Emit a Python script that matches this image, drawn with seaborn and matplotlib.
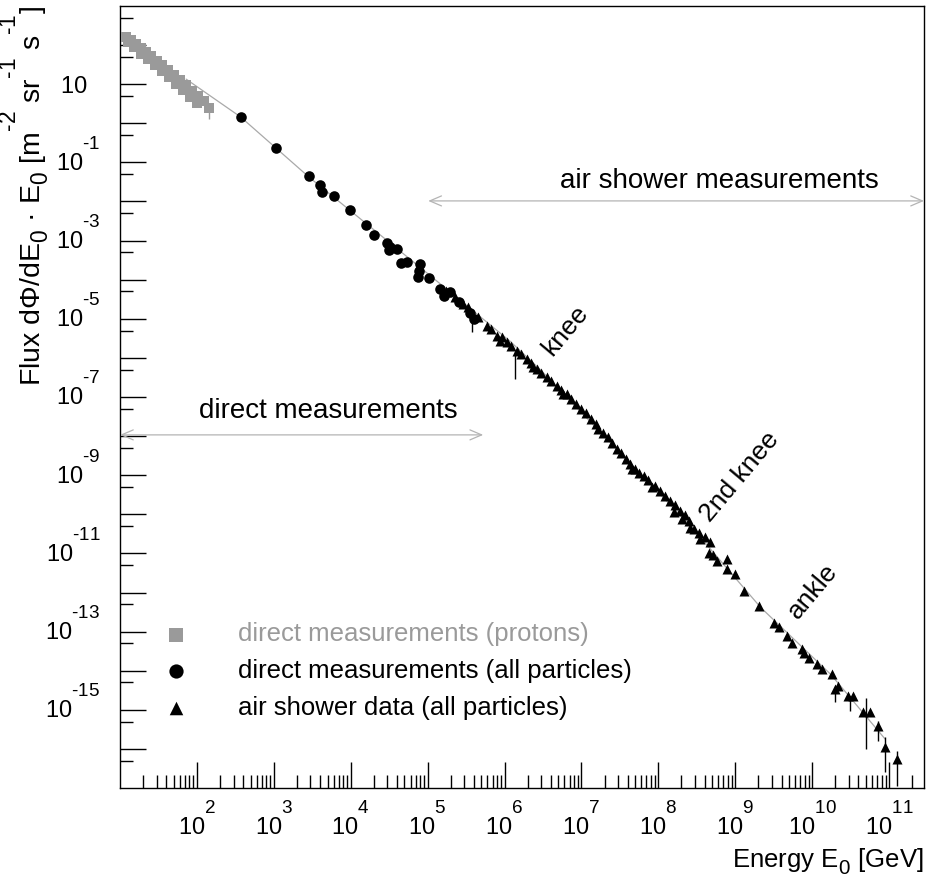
import numpy as np
import matplotlib
matplotlib.use("Agg")
import matplotlib.pyplot as plt
import seaborn as sns
from matplotlib.ticker import FixedLocator, FuncFormatter
from matplotlib.transforms import ScaledTranslation

# ---- cosmic-ray all-particle flux (values as log10) ----
# direct measurements, protons
proton_log_energy = [1.081, 1.146, 1.211, 1.276, 1.341, 1.406, 1.484, 1.549, 1.627,
                     1.705, 1.783, 1.861, 1.939, 2.017, 2.095, 2.160,
                     1.107, 1.185, 1.276, 1.367, 1.458, 1.549, 1.640, 1.731, 1.822,
                     1.913, 2.004]
proton_log_flux = [2.202, 2.125, 2.023, 1.921, 1.818, 1.716, 1.588, 1.486, 1.358,
                   1.230, 1.102, 0.974, 0.821, 0.693, 0.565, 0.386,
                   2.074, 1.946, 1.767, 1.639, 1.486, 1.332, 1.179, 1.000, 0.847,
                   0.668, 0.514]

# direct measurements, all particles
direct_log_energy = [2.572, 3.027, 3.464, 3.603, 3.625, 3.785, 3.993, 4.198, 4.302,
                     4.471, 4.514, 4.598, 4.492, 4.657, 4.731, 4.904, 4.891, 4.874,
                     5.012, 5.164, 5.207, 5.294, 5.402, 5.554, 5.597]
direct_log_flux = [0.156, -0.637, -1.340, -1.570, -1.762, -1.857, -2.215, -2.598, -2.854,
                   -3.066, -3.151, -3.220, -3.238, -3.578, -3.545, -3.604, -3.775, -3.928,
                   -3.944, -4.243, -4.414, -4.327, -4.568, -4.839, -5.010]

# air shower data, all particles
shower_log_energy = [5.242, 5.359, 5.463, 5.528, 5.658, 5.771, 5.827, 5.901, 5.970, 6.031,
                     6.087, 6.161, 6.217, 6.291, 6.347, 6.421, 6.477, 6.551, 6.607, 6.681,
                     6.737, 6.811, 6.867, 6.932, 6.997, 7.062, 7.127, 7.192, 7.287, 7.349,
                     7.401, 7.462, 7.518, 7.583, 7.635, 7.700, 7.752, 7.808, 7.869, 7.960,
                     8.025, 8.090, 8.155, 8.220, 8.285, 8.307, 8.350, 8.393, 8.415, 8.467,
                     8.523, 8.545, 8.610, 8.675, 8.653, 8.714, 8.762, 8.892, 8.892, 9.000,
                     9.108, 9.303, 9.498, 9.563, 9.670, 9.737, 9.867, 9.888, 9.953, 10.062,
                     10.127, 10.257, 10.343, 10.300, 10.473, 10.538, 10.668, 10.756, 10.856,
                     10.951, 11.103,
                     5.944, 6.373, 6.763, 7.218, 7.661, 7.919, 8.207]
shower_log_flux = [-4.294, -4.448, -4.627, -4.703, -4.959, -5.182, -5.266, -5.437, -5.471, -5.606,
                   -5.701, -5.821, -5.905, -6.033, -6.136, -6.289, -6.391, -6.501, -6.596, -6.716,
                   -6.826, -6.928, -7.056, -7.184, -7.312, -7.414, -7.568, -7.696, -7.908, -8.028,
                   -8.182, -8.335, -8.437, -8.591, -8.719, -8.847, -8.949, -9.018, -9.128, -9.274,
                   -9.409, -9.529, -9.665, -9.767, -9.913, -10.125, -10.023, -10.169, -10.338, -10.381,
                   -10.466, -10.637, -10.586, -10.721, -10.977, -11.046, -11.192, -11.148, -11.404, -11.532,
                   -11.959, -12.343, -12.785, -12.875, -13.110, -13.297, -13.450, -13.535, -13.663, -13.834,
                   -13.962, -14.090, -14.389, -14.473, -14.645, -14.645, -15.069, -15.069, -15.412,
                   -15.964, -16.263,
                   -5.573, -6.238, -6.928, -7.824, -8.847, -9.307, -9.946]

# vertical error bars (log10 energy, log10 upper, log10 lower)
err_log_energy = [2.160, 5.576, 6.139, 10.300, 10.495, 10.703, 10.856, 10.951, 11.103]
err_log_high = [0.386, -4.90, -5.85, -14.473, -14.645, -14.703, -15.292, -15.708, -16.051]
err_log_low = [0.100, -5.33, -6.545, -14.806, -15.036, -16.008, -15.795, -16.596, -16.954]
err_colors = ["#9a9a9a"] + ["black"] * 8

# model spectrum through the data
model_log_energy = [1.86, 2.57, 3.46, 4.90, 6.07, 6.46, 8.42, 9.33, 10.24, 10.95]
model_log_flux = [1.13, 0.16, -1.38, -3.68, -5.57, -6.29, -10.30, -12.38, -14.09, -15.75]

legend_labels = ["direct measurements (protons)",
                 "direct measurements (all particles)",
                 "air shower data (all particles)"]

HY = "\u2010"  # short hyphen used as the sign in exponents


def p10(v):
    return np.power(10.0, np.asarray(v, dtype=float))


def exponent(k):
    return (HY + str(-k)) if k < 0 else str(k)


sns.set_theme(style="white")
plt.rcParams["font.family"] = ["Liberation Sans", "DejaVu Sans"]
plt.rcParams["mathtext.fontset"] = "custom"
plt.rcParams["mathtext.rm"] = "Liberation Sans"
plt.rcParams["mathtext.it"] = "Liberation Sans:italic"
plt.rcParams["mathtext.bf"] = "Liberation Sans:bold"
plt.rcParams["mathtext.fallback"] = "stixsans"

# larger, higher exponents and lower indices than the mathtext default
try:
    import matplotlib._mathtext as _mt
    _mt.SHRINK_FACTOR = 0.8
    _mt.FontConstantsBase.sup1 = 1.6
    _mt.FontConstantsBase.sub1 = 0.55
except Exception:
    pass

W, H = 926, 881
fig = plt.figure(figsize=(W / 100, H / 100), dpi=100)
ax = fig.add_axes([120 / W, 1 - 788 / H, 804 / W, 782 / H])
ax.set_xscale("log")
ax.set_yscale("log")
ax.set_xlim(10, 2.85e11)
ax.set_ylim(1e-17, 1e3)

grey = "#9a9a9a"

sns.lineplot(x=p10(model_log_energy), y=p10(model_log_flux), ax=ax, color="#a9a9a9",
             lw=0.9, sort=False, estimator=None, zorder=1)

ax.vlines(p10(err_log_energy), p10(err_log_low), p10(err_log_high), colors=err_colors,
          lw=1.0, zorder=2)

sns.scatterplot(x=p10(proton_log_energy), y=p10(proton_log_flux), ax=ax, marker="s",
                color=grey, s=42, linewidth=0, label=legend_labels[0], zorder=3)
sns.scatterplot(x=p10(direct_log_energy), y=p10(direct_log_flux), ax=ax, marker="o",
                color="black", s=58, linewidth=0, label=legend_labels[1], zorder=3)
sns.scatterplot(x=p10(shower_log_energy), y=p10(shower_log_flux), ax=ax, marker="^",
                color="black", s=52, linewidth=0, label=legend_labels[2], zorder=3)

# axis ticks: decades plus log subdivisions on x, half decades on y
x_major = [10.0 ** k for k in range(2, 12)]
x_minor = [m * 10.0 ** k for k in range(1, 12) for m in range(2, 10) if m * 10.0 ** k < 2.85e11]
y_major = [10.0 ** k for k in range(-16, 3)]
y_minor = [5 * 10.0 ** k for k in range(-17, 3)]
ax.xaxis.set_major_locator(FixedLocator(x_major))
ax.xaxis.set_minor_locator(FixedLocator(x_minor))
ax.yaxis.set_major_locator(FixedLocator(y_major))
ax.yaxis.set_minor_locator(FixedLocator(y_minor))


def xfmt(v, pos):
    return r"$10^{%s}$" % exponent(int(round(np.log10(v))))


def yfmt(v, pos):
    k = int(round(np.log10(v)))
    if k % 2 == 0:
        return ""
    if k == 1:
        return "10  "
    return r"$10^{%s}$" % exponent(k)


ax.xaxis.set_major_formatter(FuncFormatter(xfmt))
ax.yaxis.set_major_formatter(FuncFormatter(yfmt))
ax.xaxis.set_minor_formatter(FuncFormatter(lambda v, p: ""))
ax.yaxis.set_minor_formatter(FuncFormatter(lambda v, p: ""))
ax.tick_params(axis="both", which="both", direction="in", top=False, right=False,
               left=True, bottom=True, color="black", width=1.0, labelsize=17,
               labelcolor="black")
ax.tick_params(axis="both", which="major", length=18.5)
ax.tick_params(axis="both", which="minor", length=9.2)
ax.tick_params(axis="x", which="major", pad=10)
ax.tick_params(axis="y", which="major", pad=14)
for s in ax.spines.values():
    s.set_visible(True)
    s.set_color("black")
    s.set_linewidth(1.0)

# y labels sit on their baseline, a little below the tick
shift = ScaledTranslation(0, -8.5 / 100, fig.dpi_scale_trans)
for t in ax.yaxis.get_major_ticks():
    t.label1.set_verticalalignment("baseline")
    t.label1.set_transform(t.label1.get_transform() + shift)

ax.set_xlabel(r"Energy E$_0$ [GeV]", fontsize=18.5, loc="right", color="black")
ax.xaxis.set_label_coords(1.0, -0.074)
ax.set_ylabel(r"Flux d$\Phi$/dE$_0$ · E$_0$ [m$^{%s2}$ sr$^{%s1}$ s$^{%s1}$]" % (HY, HY, HY),
              fontsize=20.5, loc="top", color="black")
ax.yaxis.set_label_coords(-0.083, 1.0)

# region arrows
arrow_kw = dict(arrowstyle="<->,head_length=0.7,head_width=0.3", color="#b4b4b4",
                lw=0.9, shrinkA=0, shrinkB=0)
ax.annotate("", xy=(p10(5.723), p10(-7.969)), xytext=(10, p10(-7.969)), arrowprops=arrow_kw)
ax.annotate("", xy=(p10(11.455), p10(-1.985)), xytext=(p10(5.008), p10(-1.985)),
            arrowprops=arrow_kw)
ax.text(p10(3.707), p10(-7.363), "direct measurements", fontsize=20, ha="center",
        va="center", color="black")
ax.text(p10(8.792), p10(-1.481), "air shower measurements", fontsize=20, ha="center",
        va="center", color="black")

# spectral features
for name, le, lf in [("knee", 6.789, -5.292), ("2nd knee", 9.052, -9.051),
                     ("ankle", 10.014, -11.967)]:
    ax.text(p10(le), p10(lf), name, fontsize=19, rotation=50, ha="center", va="center",
            rotation_mode="anchor", color="black")

leg = ax.legend(frameon=False, fontsize=18.5, loc="lower left",
                bbox_to_anchor=(0.0535, 0.087), handlelength=1.0, handletextpad=1.9,
                labelspacing=0.50, borderpad=0, borderaxespad=0)
for txt, c in zip(leg.get_texts(), [grey, "black", "black"]):
    txt.set_color(c)
for h, sz in zip(leg.legend_handles, [100, 105, 95]):
    h.set_sizes([sz])

fig.savefig("out.png", dpi=100)
